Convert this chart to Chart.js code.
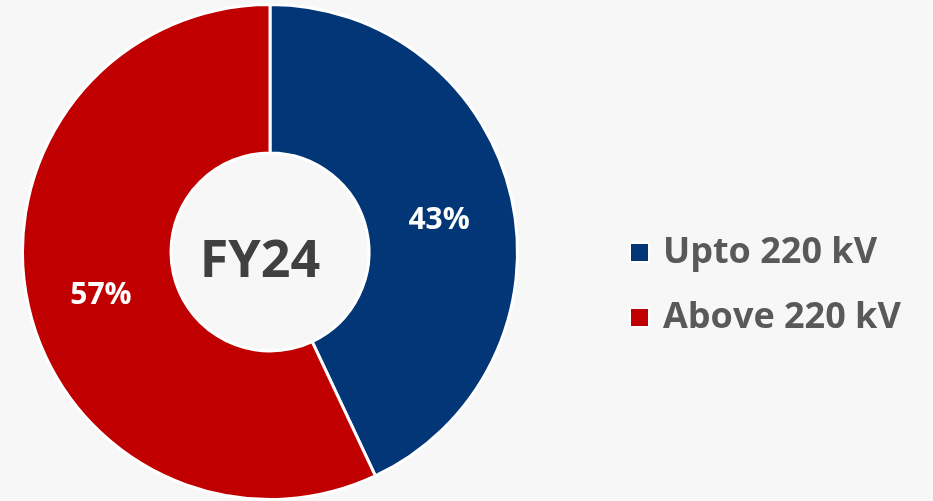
<!DOCTYPE html>
<html>
<head>
<meta charset="utf-8">
<script src="https://cdn.jsdelivr.net/npm/chart.js@4"></script>
<style>
    html, body { margin: 0; padding: 0; background: #f7f7f7; }
    #wrap { position: relative; width: 933px; height: 501px; }
</style>
</head>
<body>
<div id="wrap"><canvas id="shareChart" width="933" height="501"></canvas></div>
<script>
const categories = ['Upto 220 kV', 'Above 220 kV'];
const shares = [43, 57];
const sliceColors = ['#033677', '#c00000'];
const centerTitle = 'FY24';

const FONT = '"Open Sans", "Noto Sans", sans-serif';

// percent labels on each slice + center title + legend on the right
const overlayPlugin = {
    id: 'overlay',
    afterDatasetsDraw(chart) {
        const ctx = chart.ctx;
        const meta = chart.getDatasetMeta(0);
        ctx.save();
        ctx.textAlign = 'center';
        ctx.textBaseline = 'middle';
        ctx.fillStyle = '#ffffff';
        ctx.font = 'bold 30px ' + FONT;
        meta.data.forEach((arc, i) => {
            const p = arc.tooltipPosition();
            ctx.fillText(shares[i] + '%', p.x, p.y + 6);
        });

        const c = meta.data[0];
        ctx.fillStyle = '#404040';
        ctx.font = 'bold 52px ' + FONT;
        ctx.fillText(centerTitle, c.x - 10, c.y + 10);

        // legend
        ctx.textAlign = 'left';
        ctx.font = 'bold 36px ' + FONT;
        categories.forEach((name, i) => {
            const y = 252 + i * 65;
            ctx.fillStyle = '#ffffff';
            ctx.fillRect(629, y - 10, 21, 21);
            ctx.fillStyle = sliceColors[i];
            ctx.fillRect(631, y - 8, 17, 17);
            ctx.fillStyle = '#595959';
            ctx.fillText(name, 663, y + 1);
        });
        ctx.restore();
    }
};

new Chart(document.getElementById('shareChart'), {
    type: 'doughnut',
    data: {
        labels: categories,
        datasets: [{
            data: shares,
            backgroundColor: sliceColors,
            borderColor: '#ffffff',
            borderWidth: 3
        }]
    },
    options: {
        responsive: false,
        animation: false,
        cutout: '40%',
        layout: {
            padding: { left: 18, right: 411, top: 3, bottom: -4 }
        },
        plugins: {
            legend: { display: false },
            tooltip: { enabled: false }
        }
    },
    plugins: [overlayPlugin]
});
</script>
</body>
</html>
